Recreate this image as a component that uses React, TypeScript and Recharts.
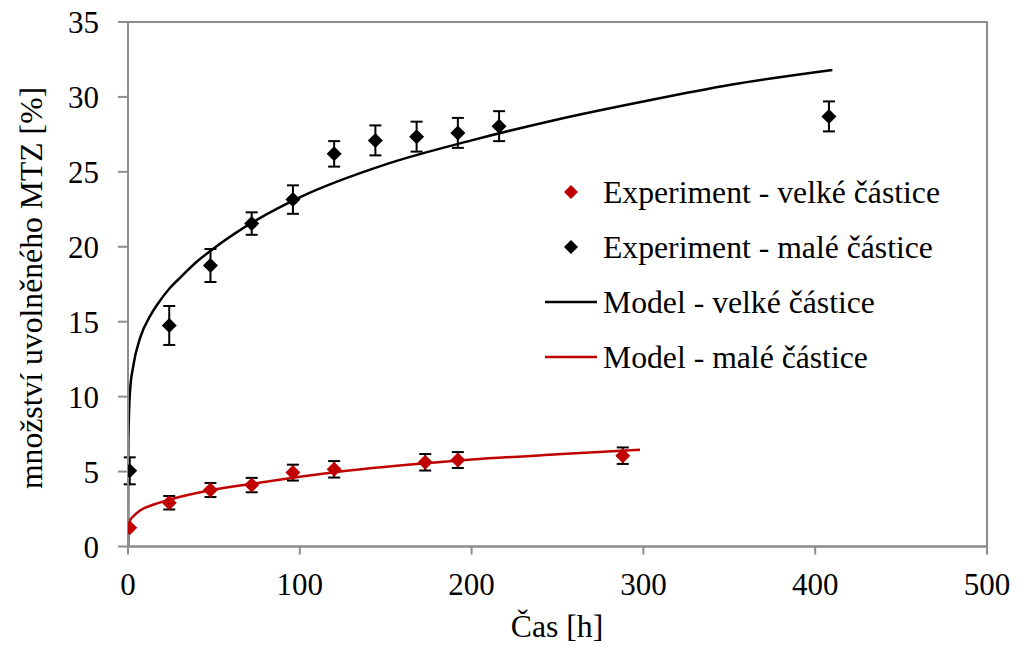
import {
    ComposedChart,
    ErrorBar,
    Label,
    Line,
    ReferenceArea,
    Scatter,
    XAxis,
    YAxis,
} from 'recharts';

// axis ticks
const xTicks = [0, 100, 200, 300, 400, 500];
const yTicks = [0, 5, 10, 15, 20, 25, 30, 35];

// Experiment - malé částice (black diamonds)
const blackExpTime = [1, 24, 48, 72, 96, 120, 144, 168, 192, 216, 408];
const blackExpValue = [5.05, 14.75, 18.75, 21.55, 23.15, 26.2, 27.1, 27.35, 27.6, 28.05, 28.7];
const blackExpErr = [0.9, 1.3, 1.1, 0.75, 0.95, 0.85, 1.0, 1.0, 1.0, 1.0, 1.0];

// Experiment - velké částice (red diamonds)
const redExpTime = [1, 24, 48, 72, 96, 120, 173, 192, 288];
const redExpValue = [1.25, 2.92, 3.77, 4.1, 4.93, 5.15, 5.62, 5.77, 6.06];
const redExpErr = [0, 0.45, 0.47, 0.48, 0.53, 0.55, 0.55, 0.53, 0.55];

// Model - velké částice (black line)
const blackModelTime = [0, 0.2, 1.2, 3, 7, 13, 18, 24, 30, 40, 50, 75, 100, 150, 200, 250, 300, 350, 410];
const blackModelValue = [0, 7, 10.4, 12.0, 13.9, 15.4, 16.3, 17.2, 17.9, 19.0, 19.9, 21.8, 23.3, 25.5, 27.1, 28.5, 29.7, 30.8, 31.8];

// Model - malé částice (red line)
const redModelTime = [0, 0.3, 1.2, 3, 7, 15, 25, 48, 70, 100, 120, 173, 200, 250, 298];
const redModelValue = [0, 1.2, 1.75, 2.0, 2.4, 2.8, 3.15, 3.75, 4.15, 4.65, 4.95, 5.55, 5.8, 6.15, 6.45];

const RED = '#c00000';
const AXIS = '#8c8c8c';
const FONT = 'Liberation Serif, Tinos, DejaVu Serif, serif';

const zip = (xs: number[], ys: number[], errs?: number[]) =>
    xs.map((x, i) => ({ x, y: ys[i], err: errs ? errs[i] : 0 }));

const blackExp = zip(blackExpTime, blackExpValue, blackExpErr);
const redExp = zip(redExpTime, redExpValue, redExpErr);
const blackModel = zip(blackModelTime, blackModelValue);
const redModel = zip(redModelTime, redModelValue);

function Diamond(props: any) {
    const { cx, cy, fill, r = 7.5 } = props;
    if (cx == null || cy == null) return null;
    return (
        <polygon
            points={`${cx},${cy - r} ${cx + r},${cy} ${cx},${cy + r} ${cx - r},${cy}`}
            fill={fill}
        />
    );
}

const legendItems = [
    { label: 'Experiment - velké částice', color: RED, kind: 'diamond' },
    { label: 'Experiment - malé částice', color: '#000', kind: 'diamond' },
    { label: 'Model - velké částice', color: '#000', kind: 'line' },
    { label: 'Model - malé částice', color: RED, kind: 'line' },
];

function ChartLegend() {
    return (
        <svg
            width={1019}
            height={648}
            style={{ position: 'absolute', left: 0, top: 0, pointerEvents: 'none' }}
        >
            {legendItems.map((item, i) => {
                const cy = 192 + i * 55;
                return (
                    <g key={item.label}>
                        {item.kind === 'diamond' ? (
                            <Diamond cx={571} cy={cy} r={7} fill={item.color} />
                        ) : (
                            <line x1={545} x2={597} y1={cy} y2={cy} stroke={item.color} strokeWidth={2.5} />
                        )}
                        <text x={603} y={cy + 10.7} fill="#000" style={{ fontSize: 31.7, fontFamily: FONT }}>
                            {item.label}
                        </text>
                    </g>
                );
            })}
        </svg>
    );
}

export default function App() {
    const tickStyle = { fill: '#000', fontSize: 31, fontFamily: FONT, style: { fontFamily: FONT } };
    return (
        <div
            style={{
                position: 'absolute',
                left: 0,
                top: 0,
                width: 1019,
                height: 648,
                background: '#fff',
                fontFamily: FONT,
            }}
        >
            <ComposedChart
                width={1019}
                height={648}
                margin={{ top: 22, right: 32, bottom: 0, left: 0 }}
                style={{ fontFamily: FONT }}
            >
                <ReferenceArea
                    x1={0}
                    x2={500}
                    y1={0}
                    y2={35}
                    fill="none"
                    stroke={AXIS}
                    strokeWidth={2}
                />
                <XAxis
                    type="number"
                    dataKey="x"
                    domain={[0, 500]}
                    ticks={xTicks}
                    interval={0}
                    height={101.5}
                    tick={tickStyle}
                    tickSize={8}
                    tickMargin={18}
                    stroke={AXIS}
                    strokeWidth={2}
                    allowDataOverflow
                >
                    <Label
                        content={() => (
                            <text x={557} y={637} textAnchor="middle" fill="#000" style={{ fontSize: 31.7, fontFamily: FONT }}>
                                Čas [h]
                            </text>
                        )}
                    />
                </XAxis>
                <YAxis
                    type="number"
                    dataKey="y"
                    domain={[0, 35]}
                    ticks={yTicks}
                    interval={0}
                    width={128}
                    tick={tickStyle}
                    tickSize={10}
                    tickMargin={19}
                    stroke={AXIS}
                    strokeWidth={2}
                    allowDataOverflow
                >
                    <Label
                        content={() => (
                            <text
                                x={42}
                                y={288}
                                transform="rotate(-90 42 288)"
                                textAnchor="middle"
                                fill="#000"
                                style={{ fontSize: 31.7, fontFamily: FONT }}
                            >
                                množství uvolněného MTZ [%]
                            </text>
                        )}
                    />
                </YAxis>
                <Line
                    data={blackModel}
                    dataKey="y"
                    type="monotone"
                    stroke="#000"
                    strokeWidth={2.5}
                    dot={false}
                    activeDot={false}
                    isAnimationActive={false}
                />
                <Line
                    data={redModel}
                    dataKey="y"
                    type="monotone"
                    stroke={RED}
                    strokeWidth={2.5}
                    dot={false}
                    activeDot={false}
                    isAnimationActive={false}
                />
                <Scatter
                    data={blackExp}
                    dataKey="y"
                    fill="#000"
                    shape={(p: any) => <Diamond {...p} fill="#000" />}
                    isAnimationActive={false}
                >
                    <ErrorBar dataKey="err" direction="y" width={6} stroke="#000" strokeWidth={2} />
                </Scatter>
                <Scatter
                    data={redExp}
                    dataKey="y"
                    fill={RED}
                    shape={(p: any) => <Diamond {...p} fill={RED} />}
                    isAnimationActive={false}
                >
                    <ErrorBar dataKey="err" direction="y" width={6} stroke="#000" strokeWidth={2} />
                </Scatter>
            </ComposedChart>
            <ChartLegend />
        </div>
    );
}
